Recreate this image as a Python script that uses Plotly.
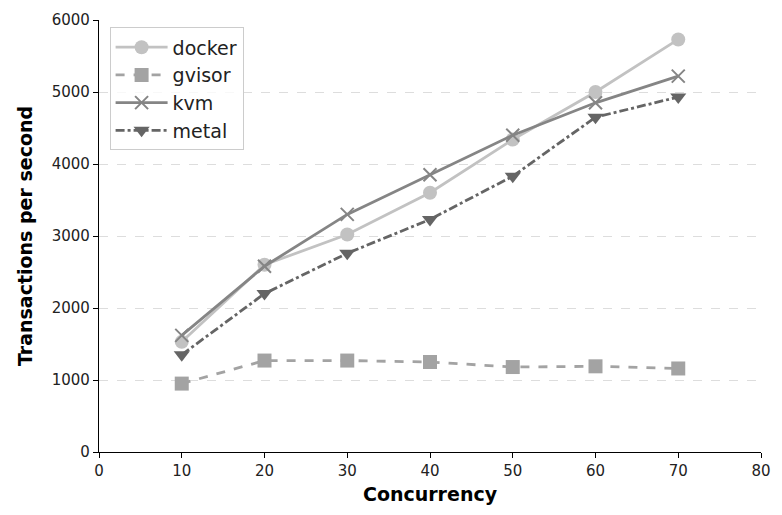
import plotly.graph_objects as go

concurrency = [10, 20, 30, 40, 50, 60, 70]
docker = [1530, 2600, 3020, 3600, 4340, 5000, 5730]
gvisor = [950, 1270, 1270, 1250, 1180, 1190, 1160]
kvm = [1620, 2580, 3300, 3850, 4400, 4850, 5220]
metal = [1350, 2200, 2760, 3230, 3830, 4650, 4930]

series = [
    ("docker", docker, "#c2c2c2", "solid", "circle"),
    ("gvisor", gvisor, "#a3a3a3", "dash", "square"),
    ("kvm", kvm, "#858585", "solid", "x-thin"),
    ("metal", metal, "#656565", "dashdot", "triangle-down"),
]

fig = go.Figure()
for name, vals, col, dash, sym in series:
    marker = dict(symbol=sym, size=14, color=col)
    if sym == "x-thin":
        marker = dict(symbol=sym, size=13, color=col, line=dict(width=2, color=col))
    fig.add_trace(go.Scatter(
        x=concurrency, y=vals, name=name, mode="lines+markers",
        line=dict(color=col, width=2.8, dash=dash),
        marker=marker,
    ))

fig.update_layout(
    width=782, height=515,
    margin=dict(l=99, r=11, t=16, b=63),
    plot_bgcolor="white", paper_bgcolor="white",
    font=dict(family="DejaVu Sans", size=15, color="#222"),
    showlegend=True,
    legend=dict(
        x=0.016, y=0.983, xanchor="left", yanchor="top",
        bordercolor="#cccccc", borderwidth=1, bgcolor="rgba(255,255,255,0.8)",
        font=dict(size=19, color="#222"), tracegroupgap=3, itemwidth=52,
    ),
    xaxis=dict(
        range=[0, 80], tickvals=[0, 10, 20, 30, 40, 50, 60, 70, 80],
        showgrid=False, zeroline=False, showline=True, linecolor="black", linewidth=1.3,
        ticks="outside", ticklen=5, tickcolor="black",
        title=dict(text="<b>Concurrency</b>", font=dict(size=19, color="black"), standoff=8),
    ),
    yaxis=dict(
        range=[0, 6000], tickvals=[0, 1000, 2000, 3000, 4000, 5000, 6000],
        showgrid=True, gridcolor="#dddddd", griddash="dash", gridwidth=1,
        zeroline=False, showline=True, linecolor="black", linewidth=1.3,
        ticks="outside", ticklen=5, tickcolor="black",
        title=dict(text="<b>Transactions per second</b>", font=dict(size=19, color="black"), standoff=14),
    ),
)

fig.write_html("out.html")
